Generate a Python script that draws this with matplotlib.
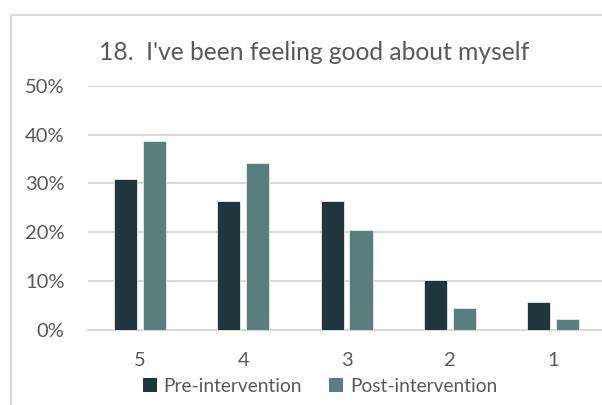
import matplotlib
matplotlib.use("Agg")
import matplotlib.pyplot as plt
import numpy as np
from matplotlib.patches import Rectangle, Patch

categories = ["5", "4", "3", "2", "1"]
pre_intervention = [31.0, 26.5, 26.5, 10.3, 5.7]
post_intervention = [38.6, 34.1, 20.5, 4.5, 2.3]
series_names = ["Pre-intervention", "Post-intervention"]
title = "18.  I've been feeling good about myself"

plt.rcParams["font.family"] = ["Lato", "DejaVu Sans"]

PRE_COLOR = "#1f363d"
POST_COLOR = "#587e7d"
TEXT_COLOR = "#595959"
GRID_COLOR = "#d9d9d9"

fig = plt.figure(figsize=(6.02, 4.05), dpi=100)
fig.patch.set_facecolor("white")

# chart frame (light gray outline)
fig.add_artist(Rectangle((11 / 602, -0.1), 1.2, 1 - 15 / 405 + 0.1,
                         transform=fig.transFigure, fill=False,
                         edgecolor=GRID_COLOR, linewidth=1.5))

ax = fig.add_axes([88.3 / 602, 1 - 330 / 405, (605 - 88.3) / 602, (330 - 85.7) / 405])
x = np.arange(len(categories))
w = 0.225
off = 0.14
ax.bar(x - off, np.array(pre_intervention) / 100, width=w, color=PRE_COLOR,
       edgecolor="#e6ecec", linewidth=0.6, zorder=3, label=series_names[0])
ax.bar(x + off, np.array(post_intervention) / 100, width=w, color=POST_COLOR,
       edgecolor="#e6ecec", linewidth=0.6, zorder=3, label=series_names[1])

ax.set_xlim(-0.5, len(categories) - 0.5)
ax.set_ylim(0, 0.5)
ax.set_yticks(np.arange(0, 0.51, 0.1))
ax.set_yticklabels([f"{int(round(v * 100))}%" for v in np.arange(0, 0.51, 0.1)])
ax.set_xticks(x)
ax.set_xticklabels(categories)
ax.tick_params(axis="both", length=0, colors=TEXT_COLOR, labelsize=14.5)
ax.tick_params(axis="y", pad=17)
ax.tick_params(axis="x", pad=16)
ax.yaxis.grid(True, color=GRID_COLOR, linewidth=1.5, zorder=0)
for s in ["top", "right", "left"]:
    ax.spines[s].set_visible(False)
ax.spines["bottom"].set_color(GRID_COLOR)
ax.spines["bottom"].set_linewidth(1.5)
ax.set_facecolor("none")

fig.text(98.7 / 602, 1 - 52 / 405, title, fontsize=17.7, color=TEXT_COLOR,
         ha="left", va="center")

handles = [Patch(facecolor=PRE_COLOR), Patch(facecolor=POST_COLOR)]
fig.legend(handles, series_names, loc="center", bbox_to_anchor=(320 / 602, 1 - 386 / 405),
           ncol=2, frameon=False, fontsize=13.8, labelcolor=TEXT_COLOR,
           handlelength=0.75, handleheight=0.75, handletextpad=0.35,
           columnspacing=1.4, borderpad=0)

fig.savefig("out.png", dpi=100, facecolor="white")
